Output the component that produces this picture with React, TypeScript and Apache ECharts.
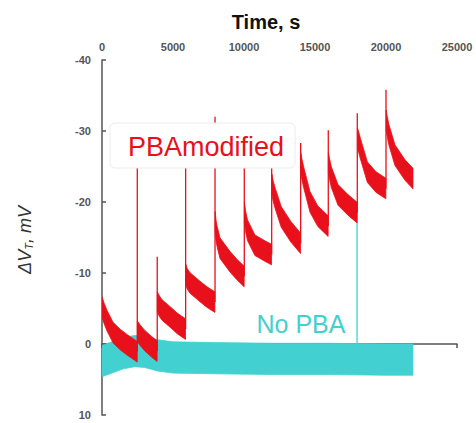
import { useEffect, useRef } from "react";
import * as echarts from "echarts";

// Time axis (s) and potential axis (mV) limits
const X_MIN = 0;
const X_MAX = 25000;
const X_STEP = 5000;
const Y_MIN = -40;
const Y_MAX = 10;
const Y_STEP = 10;

// "PBA modified" decay segments [time s, ΔV mV]
const PBA_SEGMENTS: number[][][] = [
  [[0, -5.2], [150, -4.3], [350, -3.3], [780, -1.6], [1300, -0.6], [1760, 0.1], [2480, 1.1]],
  [[2490, -1.8], [2700, -1.2], [3000, -0.5], [3500, 0.4], [3880, 1.0]],
  [[3895, -5.9], [4050, -5.3], [4230, -4.8], [4860, -3.7], [5300, -2.9], [5880, -2.1]],
  [[5895, -9.8], [6000, -9.2], [6200, -8.6], [6900, -7.4], [7400, -6.6], [7950, -5.9]],
  [[7965, -17.2], [8030, -16.0], [8100, -15.2], [8310, -13.5], [9010, -11.6], [9500, -10.5], [10010, -9.5]],
  [[10030, -18.5], [10120, -17.2], [10250, -16.0], [10770, -13.9], [11470, -13.1], [11940, -12.6]],
  [[11960, -22.5], [12060, -21.5], [12200, -20.5], [12620, -17.9], [13300, -15.8], [13980, -14.2]],
  [[14000, -25.5], [14080, -24.6], [14200, -23.5], [14650, -20.0], [15200, -18.0], [15925, -16.6]],
  [[15945, -25.5], [16030, -24.6], [16150, -23.5], [16620, -21.0], [17320, -19.6], [17965, -18.5]],
  [[17990, -29.0], [18080, -28.4], [18200, -27.5], [18690, -24.2], [19300, -22.8], [19990, -21.9]],
  [[20010, -31.5], [20090, -30.6], [20200, -29.5], [20630, -26.6], [21340, -24.5], [21900, -23.3]],
];

// Injection spikes of the modified sensor
const SPIKE_TIMES = [2485, 3890, 5890, 7960, 10020, 11950, 13990, 15935, 17978, 20000];
const SPIKE_TOPS = [-27, -12.3, -27, -32.0, -27, -27, -28.3, -30.1, -32.5, -35.8];

// "No PBA" baseline
const NO_PBA: number[][] = [
  [0, 2.4], [700, 1.9], [1500, 1.3], [2300, 1.0], [3000, 1.1], [3900, 1.6],
  [5000, 1.9], [8000, 2.0], [12000, 2.1], [16000, 2.1], [20000, 2.2], [21900, 2.2],
];
const NO_PBA_SPIKE: number[][] = [[17960, 2.2], [17960, -19]];

// half-thickness of the noise bands, mV
const PBA_HALF = 1.45;
const NO_PBA_HALF = 2.2;

const RED = "#e8101a";
const CYAN = "#43d0d0";

function bandRenderer(segments: number[][][], half: number, color: string) {
  return (params: any, api: any) => {
    const seg = segments[params.dataIndex];
    const upper = seg.map(([t, v]) => api.coord([t, v - half]));
    const lower = seg
      .slice()
      .reverse()
      .map(([t, v]) => api.coord([t, v + half]));
    return {
      type: "polygon",
      shape: { points: [...upper, ...lower] },
      style: { fill: color, stroke: color, lineWidth: 0.8 },
    };
  };
}

export default function App() {
  const ref = useRef<HTMLDivElement>(null);

  useEffect(() => {
    document.body.style.margin = "0";
    if (!ref.current) return;
    const chart = echarts.init(ref.current, undefined, { renderer: "svg" });

    const spikeSeries = SPIKE_TIMES.map((t, i) => ({
      type: "line",
      data: [
        [t, PBA_SEGMENTS[i][PBA_SEGMENTS[i].length - 1][1]],
        [t, SPIKE_TOPS[i]],
        [t, PBA_SEGMENTS[i + 1] ? PBA_SEGMENTS[i + 1][0][1] : SPIKE_TOPS[i]],
      ],
      showSymbol: false,
      symbol: "none",
      silent: true,
      z: 4,
      lineStyle: { color: RED, width: 1.3 },
    }));

    chart.setOption({
      animation: false,
      grid: { left: 102, top: 60, width: 355, height: 355, containLabel: false },
      xAxis: {
        type: "value",
        position: "top",
        min: X_MIN,
        max: X_MAX,
        interval: X_STEP,
        axisLine: { show: true, lineStyle: { color: "#555", width: 1.5 } },
        axisTick: { show: true, inside: true, length: 4, lineStyle: { color: "#555", width: 1.5 } },
        axisLabel: {
          margin: 8,
          color: "#555",
          fontSize: 11,
          fontWeight: "bold",
          fontFamily: "Liberation Sans, Arial, sans-serif",
          formatter: (v: number) => String(v),
        },
        splitLine: { show: false },
      },
      yAxis: {
        type: "value",
        inverse: true,
        min: Y_MIN,
        max: Y_MAX,
        interval: Y_STEP,
        axisLine: { show: true, lineStyle: { color: "#555", width: 1.5 } },
        axisTick: { show: true, inside: true, length: 4, lineStyle: { color: "#555", width: 1.5 } },
        axisLabel: {
          margin: 11,
          color: "#555",
          fontSize: 11,
          fontWeight: "bold",
          fontFamily: "Liberation Sans, Arial, sans-serif",
          formatter: (v: number) => String(v),
        },
        splitLine: { show: false },
      },
      series: [
        {
          type: "custom",
          name: "No PBA",
          data: [NO_PBA[0]],
          renderItem: bandRenderer([NO_PBA], NO_PBA_HALF, CYAN),
          silent: true,
          clip: true,
          z: 2,
        },
        {
          type: "line",
          data: NO_PBA_SPIKE,
          showSymbol: false,
          symbol: "none",
          silent: true,
          z: 3,
          lineStyle: { color: CYAN, width: 1.3 },
        },
        ...spikeSeries,
        {
          type: "custom",
          name: "PBAmodified",
          data: PBA_SEGMENTS.map((s) => s[0]),
          renderItem: bandRenderer(PBA_SEGMENTS, PBA_HALF, RED),
          silent: true,
          clip: true,
          z: 5,
        },
      ],
      graphic: [
        {
          type: "text",
          x: 266,
          y: 22,
          z: 100,
          style: {
            text: "Time, s",
            fontSize: 20,
            fontWeight: "bold",
            fontFamily: "Liberation Sans, Arial, sans-serif",
            fill: "#111",
            align: "center",
            verticalAlign: "middle",
          },
        },
        {
          type: "text",
          x: 25,
          y: 240,
          rotation: Math.PI / 2,
          z: 100,
          style: {
            text: "{a|ΔV}{b|T}{a|, mV}",
            align: "center",
            verticalAlign: "middle",
            fill: "#333",
            rich: {
              a: { fontSize: 18, fontStyle: "italic", fontFamily: "Liberation Sans, Arial, sans-serif", fill: "#333" },
              b: { fontSize: 11, fontStyle: "italic", fontFamily: "Liberation Sans, Arial, sans-serif", fill: "#333", padding: [8, 0, 0, 0] },
            },
          },
        },
        {
          type: "rect",
          z: 100,
          shape: { x: 110, y: 123, width: 185, height: 45, r: 5 },
          style: { fill: "#ffffff", stroke: "#ececec", lineWidth: 1 },
        },
        {
          type: "text",
          x: 206,
          y: 147,
          z: 101,
          style: {
            text: "PBAmodified",
            fontSize: 27,
            fontFamily: "Liberation Sans, Arial, sans-serif",
            fill: RED,
            align: "center",
            verticalAlign: "middle",
          },
        },
        {
          type: "text",
          x: 301,
          y: 324,
          z: 101,
          style: {
            text: "No PBA",
            fontSize: 25,
            fontFamily: "Liberation Sans, Arial, sans-serif",
            fill: CYAN,
            align: "center",
            verticalAlign: "middle",
          },
        },
      ],
    });

    return () => chart.dispose();
  }, []);

  return <div ref={ref} style={{ width: 476, height: 423 }} />;
}
